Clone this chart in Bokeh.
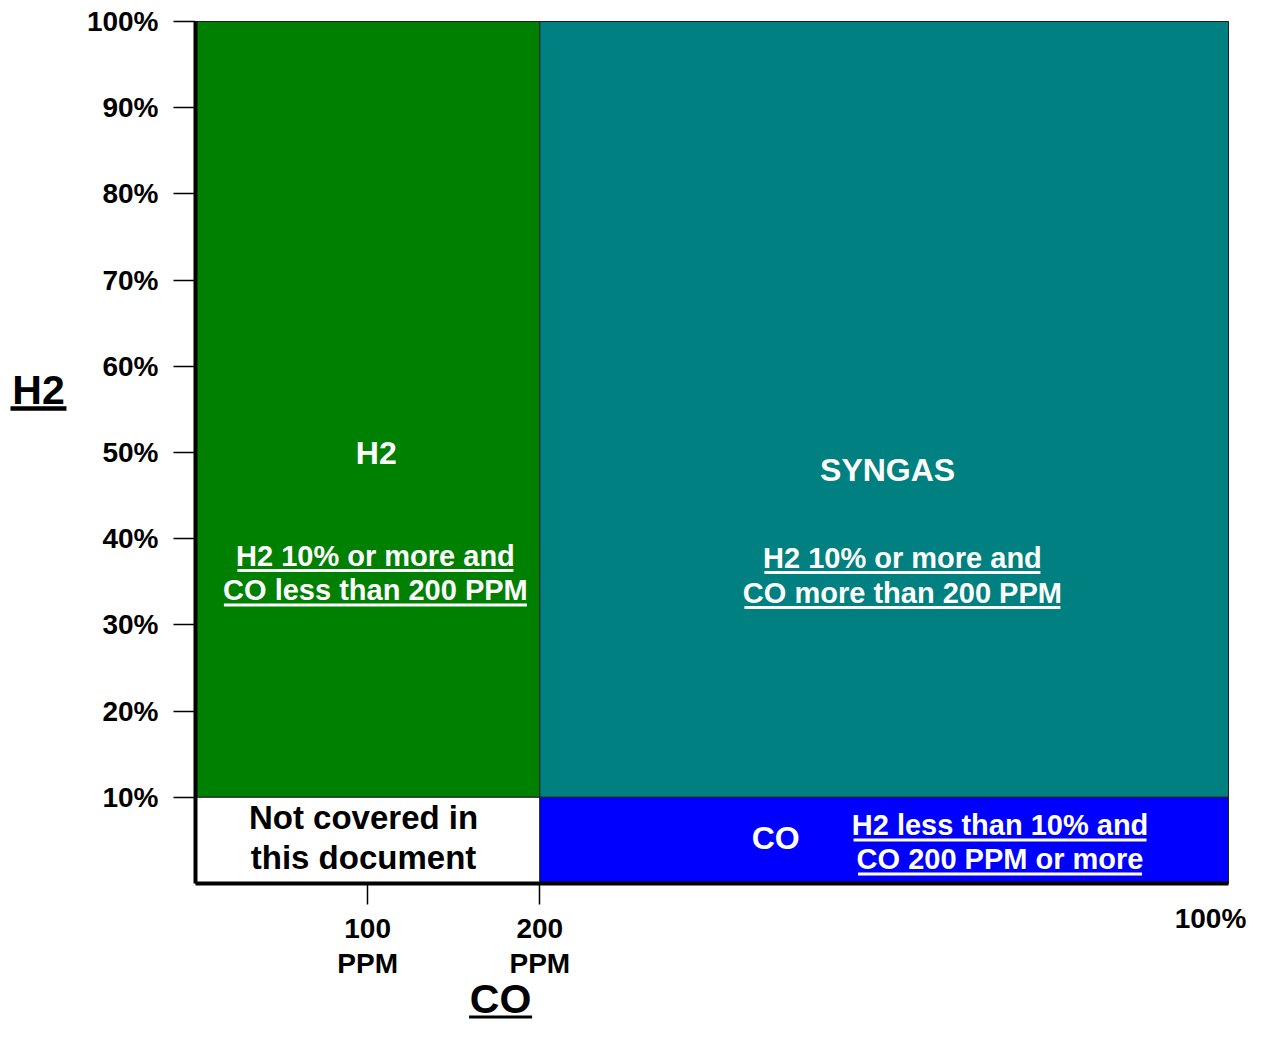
from bokeh.plotting import figure
from bokeh.models import Range1d, FixedTicker
from bokeh.core.properties import value
from bokeh.embed import file_html
from bokeh.resources import INLINE

# ---------------- data ----------------
# x axis (CO): 0 .. 100 PPM .. 200 PPM .. 100 %  (non-linear, index positions)
co_ticks = [1, 2]
co_tick_labels = ["100\nPPM", "200\nPPM"]
co_end_label = "100%"
co_max = 6

# y axis (H2 %)
h2_ticks = [10, 20, 30, 40, 50, 60, 70, 80, 90, 100]
h2_tick_labels = ["10%", "20%", "30%", "40%", "50%", "60%", "70%", "80%", "90%", "100%"]
h2_max = 100

# regions
region_names = ["H2", "SYNGAS", "Not covered", "CO"]
region_x0 = [0, 2, 0, 2]
region_x1 = [2, 6, 2, 6]
region_y0 = [10, 10, 0, 0]
region_y1 = [100, 100, 10, 10]
region_colors = ["#008000", "#008080", "#ffffff", "#0000ff"]

# region titles
title_text = ["H2", "SYNGAS", "CO"]
title_x = [1.05, 4.02, 3.37]
title_y = [50.0, 48.0, 5.3]

# underlined descriptions
desc_text = ["H2 10% or more and", "CO less than 200 PPM",
             "H2 10% or more and", "CO more than 200 PPM",
             "H2 less than 10% and", "CO 200 PPM or more"]
desc_x = [1.045, 1.045, 4.106, 4.106, 4.673, 4.673]
desc_y = [38.0, 34.0, 37.75, 33.7, 6.74, 2.79]

# note in white region
note_text = ["Not covered in", "this document"]
note_x = [0.976, 0.976]
note_y = [7.67, 3.02]

# axis titles
axis_title_text = ["H2", "CO"]
axis_title_x = [-0.912, 1.772]
axis_title_y = [57.2, -13.4]

# ---------------- layout (pixels) ----------------
W, H = 1247, 1027
PLOT_L, PLOT_R, PLOT_T, PLOT_B = 195, 1228, 21, 883
PX_X = (PLOT_R - PLOT_L) / co_max
PX_Y = (PLOT_B - PLOT_T) / h2_max
FONT = "Liberation Sans"

x_rng = Range1d(-PLOT_L / PX_X, (W - PLOT_L) / PX_X)
y_rng = Range1d((PLOT_B - H) / PX_Y, PLOT_B / PX_Y)

p = figure(width=W, height=H, output_backend="svg", toolbar_location=None,
           x_range=x_rng, y_range=y_rng,
           min_border_left=0, min_border_right=0, min_border_top=0, min_border_bottom=0)
p.outline_line_color = None
p.grid.visible = False
p.background_fill_color = "white"

p.quad(left=region_x0, right=region_x1, bottom=region_y0, top=region_y1,
       fill_color=region_colors, line_color="#1e1e1e", line_width=1)

# axes (drawn at the corner of the region diagram)
xa = p.xaxis[0]
xa.ticker = FixedTicker(ticks=co_ticks)
xa.major_label_overrides = {t: l for t, l in zip(co_ticks, co_tick_labels)}
xa.fixed_location = 0
xa.bounds = (0, co_max)
ya = p.yaxis[0]
ya.ticker = FixedTicker(ticks=h2_ticks)
ya.major_label_overrides = {t: l for t, l in zip(h2_ticks, h2_tick_labels)}
ya.fixed_location = 0
ya.bounds = (0, h2_max)
for ax in (xa, ya):
    ax.axis_line_width = 4
    ax.axis_line_color = "black"
    ax.major_tick_line_width = 1.5
    ax.major_tick_line_color = "black"
    ax.major_tick_in = 0
    ax.minor_tick_line_color = None
    ax.major_label_text_font = FONT
    ax.major_label_text_font_style = "bold"
    ax.major_label_text_font_size = "28px"
    ax.major_label_text_color = "black"
xa.major_tick_out = 21
xa.major_label_standoff = 8
xa.major_label_text_line_height = 1.13
ya.major_tick_out = 22
ya.major_label_standoff = 15

# region titles
p.text(x=title_x, y=title_y, text=title_text, text_font=value(FONT), text_font_style="bold",
       text_font_size="32px", text_align="center", text_baseline="middle", text_color="white")

# descriptions with underline
desc_half_px = [138, 151.5, 138, 158, 146.5, 142]
p.text(x=desc_x, y=desc_y, text=desc_text, text_font=value(FONT), text_font_style="bold",
       text_font_size="29px", text_align="center", text_baseline="middle", text_color="white")
ux0 = [x - h / PX_X for x, h in zip(desc_x, desc_half_px)]
ux1 = [x + h / PX_X for x, h in zip(desc_x, desc_half_px)]
uy = [y - 14.5 / PX_Y for y in desc_y]
p.segment(x0=ux0, y0=uy, x1=ux1, y1=uy, line_color="white", line_width=3)

# note
p.text(x=note_x, y=note_y, text=note_text, text_font=value(FONT), text_font_style="bold",
       text_font_size="33px", text_align="center", text_baseline="middle", text_color="black")

# end label of x axis
p.text(x=[co_max - 18 / PX_X], y=[-35 / PX_Y], text=[co_end_label], text_font=value(FONT),
       text_font_style="bold", text_font_size="28px", text_align="center",
       text_baseline="middle", text_color="black")

# axis titles, underlined
p.text(x=axis_title_x, y=axis_title_y, text=axis_title_text, text_font=value(FONT),
       text_font_style="bold", text_font_size="41px", text_align="center",
       text_baseline="middle", text_color="black")
title_half_px = [28, 31.5]
tx0 = [x - h / PX_X for x, h in zip(axis_title_x, title_half_px)]
tx1 = [x + h / PX_X for x, h in zip(axis_title_x, title_half_px)]
ty = [y - 18 / PX_Y for y in axis_title_y]
p.segment(x0=tx0, y0=ty, x1=tx1, y1=ty, line_color="black", line_width=[4.5, 3])

open("out.html", "w").write(file_html(p, INLINE))
